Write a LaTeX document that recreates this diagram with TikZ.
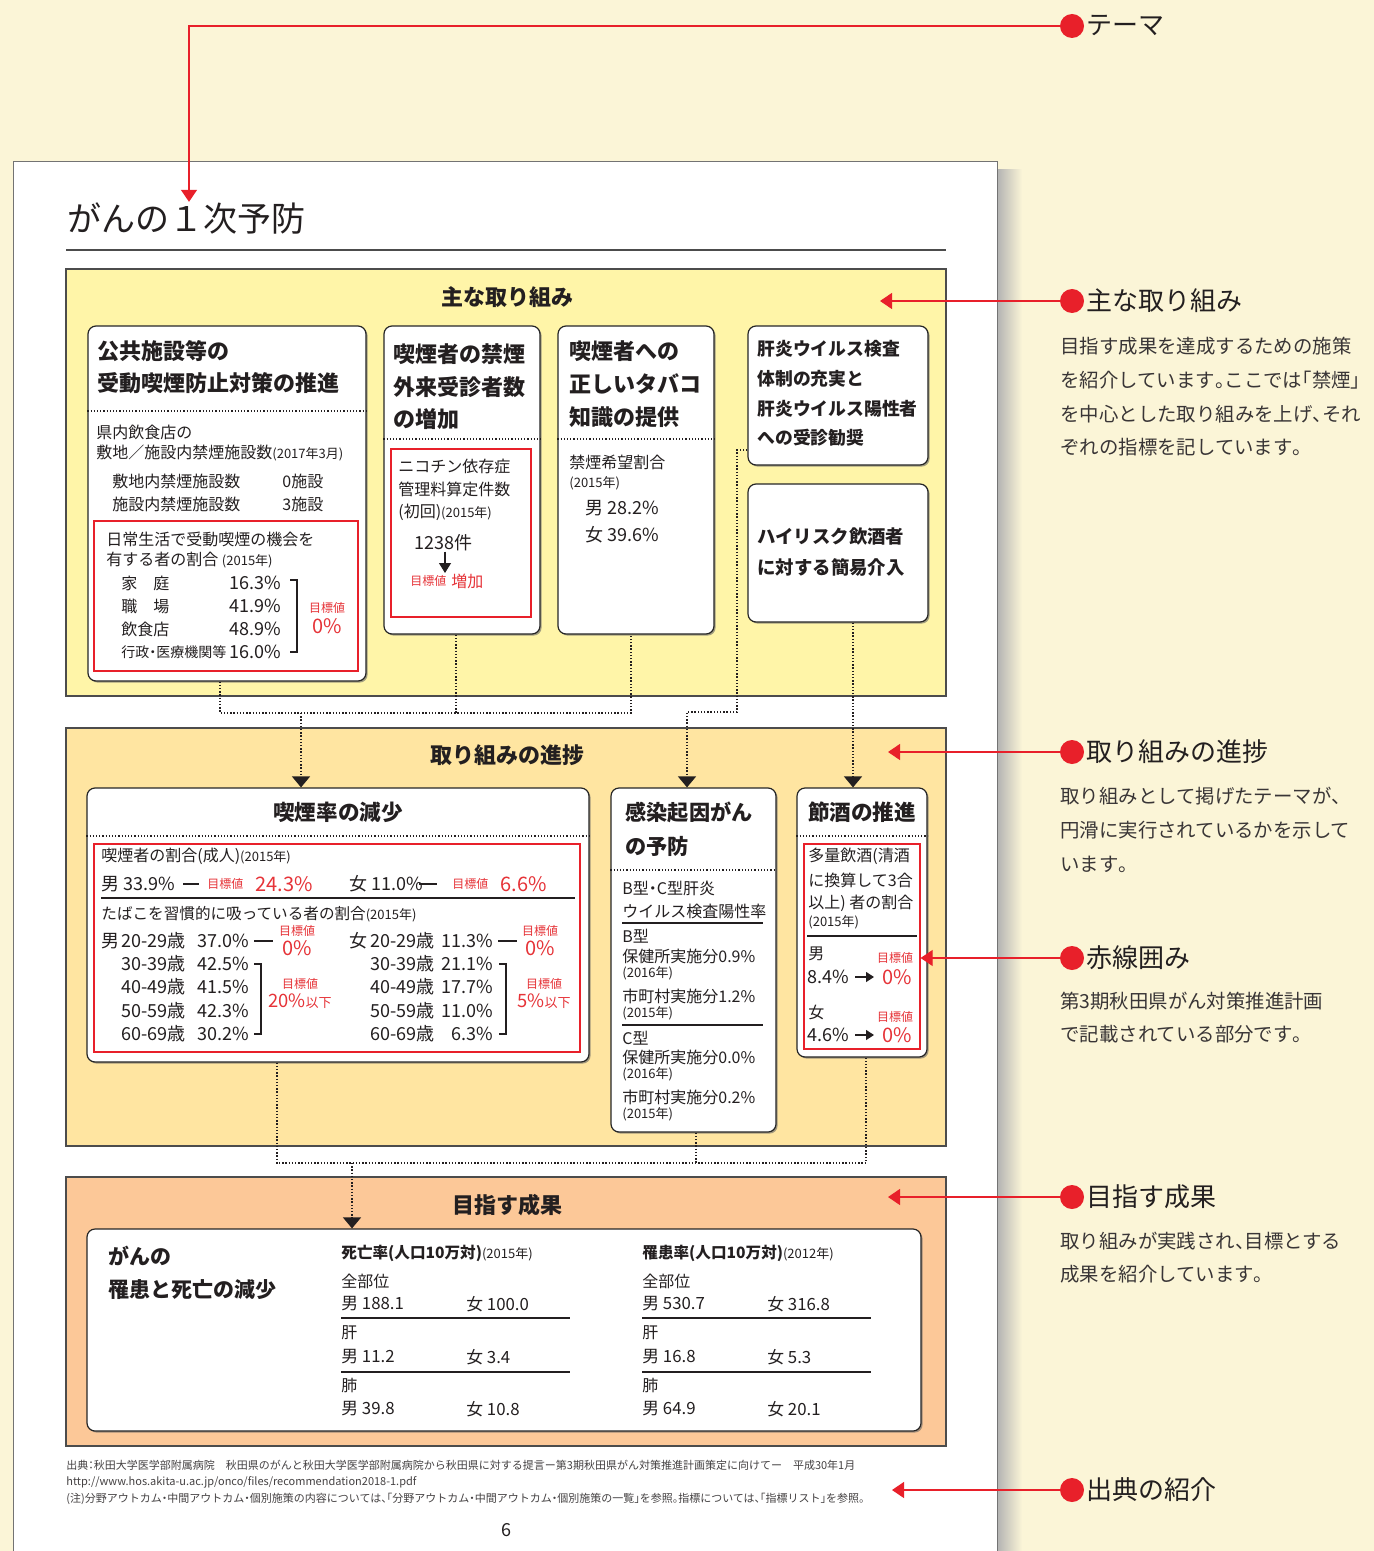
\documentclass[tikz,border=0pt]{standalone}
\usepackage{fontspec}
\setmainfont{Noto Sans CJK JP}
\usetikzlibrary{fit,arrows.meta,calc,shadows}
\definecolor{cream}{HTML}{FBF5D7}
\definecolor{yel}{HTML}{FFF5A8}
\definecolor{ora}{HTML}{FFE5A1}
\definecolor{sal}{HTML}{FCC898}
\definecolor{redc}{HTML}{E8202A}
\definecolor{redt}{HTML}{E63338}
\definecolor{ink}{HTML}{231F20}
\newcommand\myfs[1]{\fontsize{#1}{#1}\selectfont}
\newcommand\hp[1]{\makebox[0.5em][l]{#1}}
\newcommand\hpr[1]{\makebox[0.5em][r]{#1}}
\newcommand\hc[1]{\makebox[0.5em][c]{#1}}
\begin{document}
\begin{tikzpicture}[x=0.5pt,y=-0.5pt,
  sect/.style={draw=black!70, line width=0.6pt, inner sep=0pt},
  rbox/.style={draw=black!85, fill=white, rounded corners=4pt, line width=0.6pt, inner sep=0pt,
     drop shadow={shadow xshift=0.8pt, shadow yshift=-0.8pt, opacity=0.6, fill=black!60}},
  rbx/.style={draw=redc, line width=0.6pt, inner sep=0pt},
  tx/.style={anchor=west, inner sep=0pt, font=\myfs{8}, text=ink},
  sm/.style={tx, font=\myfs{6.5}},
  ttl/.style={anchor=west, inner sep=0pt, font=\myfs{11}\bfseries, text=ink},
  sttl/.style={inner sep=0pt, font=\myfs{11}\bfseries, text=ink},
  num/.style={tx, font=\myfs{9}},
  nume/.style={anchor=east, inner sep=0pt, font=\myfs{9}, text=ink},
  rt/.style={inner sep=0pt, font=\myfs{6}, text=redt},
  rn/.style={inner sep=0pt, font=\myfs{10}, text=redt},
  dotl/.style={line width=0.6pt, dash pattern=on 0.6pt off 1pt, draw=ink},
  dotconn/.style={line width=0.7pt, dash pattern=on 0.7pt off 0.9pt, draw=ink},
  dotarr/.style={dotconn, -{Triangle[width=9pt,length=5.5pt]}},
  redl/.style={draw=redc, line width=0.6pt},
  reda/.style={redl, -{Triangle[width=8pt,length=6pt]}},
  rdot/.style={circle, fill=redc, minimum size=12pt, inner sep=0pt},
  anh/.style={anchor=west, inner sep=0pt, font=\myfs{13}, text=ink},
  anb/.style={anchor=west, inner sep=0pt, font=\myfs{9.7}, text=ink!90},
  ft/.style={anchor=west, inner sep=0pt, font=\myfs{5.5}, text=ink!85},
  blk/.style={line width=0.6pt, draw=ink}
]
\useasboundingbox (0,0) rectangle (1374,1551);
\clip (0,0) rectangle (1374,1551);
% background and page
\fill[cream] (0,0) rectangle (1374,1551);
\shade[left color=black!30, right color=cream] (997,170) rectangle (1022,1551);
\fill[white] (13,162) rectangle (997,1560);
\draw[black!55, line width=0.5pt] (13,1560) -- (13,162) -- (997,162) -- (997,1560);

% title
\node[anchor=west, inner sep=0pt, font=\myfs{17}, text=ink] (title) at (67,218) {がんの１次予防};
\draw[black!70, line width=0.7pt] (66,250) -- (946,250);

% ===== section 1 =====
\node[sect, fill=yel, fit={(66,269)(946,696)}] (S1) {};
\node[sttl] (S1t) at (507,297) {主な取り組み};

\node[rbox, fit={(88,326)(366,681)}] (A) {};
\node[rbox, fit={(384,326)(540,634)}] (B) {};
\node[rbox, fit={(558,326)(714,634)}] (C) {};
\node[rbox, fit={(748,326)(928,465)}] (D) {};
\node[rbox, fit={(748,484)(928,622)}] (E) {};

% box A
\node[ttl] (a1) at (97,351) {公共施設等の};
\node[ttl] (a2) at (97,383) {受動喫煙防止対策の推進};
\draw[dotl] (A.west |- 0,411) -- (A.east |- 0,411);
\node[tx] (a3) at (96,432) {県内飲食店の};
\node[tx] (a4) at (96,453) {敷地／施設内禁煙施設数{\myfs{6.5}(2017年3月)}};
\node[tx] (a5) at (112,481) {敷地内禁煙施設数};
\node[tx] (a6) at (282,481) {0施設};
\node[tx] (a7) at (112,504) {施設内禁煙施設数};
\node[tx] (a8) at (282,504) {3施設};
\node[rbx, fit={(94,521)(358,671)}] (AR) {};
\node[tx] (a9) at (106,539) {日常生活で受動喫煙の機会を};
\node[tx] (a10) at (106,560) {有する者の割合 {\myfs{6.5}(2015年)}};
\foreach \ya/\la/\pa [count=\i] in {583/家　庭/16.3\%, 606/職　場/41.9\%, 629/飲食店/48.9\%, 652/{\myfs{7}行政\hc{・}医療機関等}/16.0\%}{
  \node[tx] (al\i) at (121,\ya) {\la};
  \node[nume] (ap\i) at (281,\ya) {\pa};
}
\draw[blk] (290,580) -- (297,580) -- (297,652) -- (290,652);
\node[rt] (a11) at (327,608) {目標値};
\node[rn] (a12) at (327,626) {0\%};

% box B
\node[ttl] (b1) at (393,354) {喫煙者の禁煙};
\node[ttl] (b2) at (393,387) {外来受診者数};
\node[ttl] (b3) at (393,419) {の増加};
\draw[dotl] (B.west |- 0,439) -- (B.east |- 0,439);
\node[rbx, fit={(391,449)(531,617)}] (BR) {};
\node[tx] (b4) at (398,466) {ニコチン依存症};
\node[tx] (b5) at (398,489) {管理料算定件数};
\node[tx] (b6) at (398,512) {(初回){\myfs{6.5}(2015年)}};
\node[num] (b7) at (414,543) {1238件};
\node[rt, anchor=west] (b8) at (410,581) {目標値};
\node[rt, anchor=west, font=\myfs{8}] (b9) at (451,581) {増加};
\draw[blk, -{Triangle[width=6pt,length=5pt]}] (b7.south -| 445,0) -- (445,573);

% box C
\node[ttl] (c1) at (569,351) {喫煙者への};
\node[ttl] (c2) at (569,384) {正しいタバコ};
\node[ttl] (c3) at (569,417) {知識の提供};
\draw[dotl] (C.west |- 0,439) -- (C.east |- 0,439);
\node[tx] (c4) at (569,462) {禁煙希望割合};
\node[sm] (c5) at (569,483) {(2015年)};
\node[num] (c6) at (585,508) {男 28.2\%};
\node[num] (c7) at (585,535) {女 39.6\%};

% box D, E
\foreach \ya/\la [count=\i] in {349/肝炎ウイルス検査, 379/体制の充実と, 409/肝炎ウイルス陽性者, 438/への受診勧奨}
  \node[ttl, font=\myfs{8.9}\bfseries] (d\i) at (757,\ya) {\la};
\node[ttl, font=\myfs{9.2}\bfseries] (e1) at (757,537) {ハイリスク飲酒者};
\node[ttl, font=\myfs{9.2}\bfseries] (e2) at (757,567) {に対する簡易介入};

% ===== section 2 =====
\node[sect, fill=ora, fit={(66,728)(946,1146)}] (S2) {};
\node[sttl] (S2t) at (507,755) {取り組みの進捗};

\node[rbox, fit={(87,788)(589,1062)}] (F) {};
\node[rbox, fit={(611,788)(776,1132)}] (G) {};
\node[rbox, fit={(797,788)(927,1057)}] (H) {};

% connectors section1 -> section2
\coordinate (jA) at (220,713);
\coordinate (jB) at (456,713);
\coordinate (jC) at (631,713);
\coordinate (jM) at (301,713);
\draw[dotconn] (A.south -| jA) -- (jA) -- (jC) -- (C.south -| jC);
\draw[dotconn] (B.south -| jB) -- (jB);
\draw[dotarr] (jM) -- (F.north -| jM);
\coordinate (d1) at (737,450);
\coordinate (d2) at (737,712);
\coordinate (d3) at (687,712);
\draw[dotarr] (D.west |- d1) -- (d1) -- (d2) -- (d3) -- (G.north -| d3);
\coordinate (e0) at (853,700);
\draw[dotarr] (E.south -| e0) -- (H.north -| e0);

% box F
\node[sttl, font=\myfs{10.8}\bfseries] (f0) at (338,812) {喫煙率の減少};
\draw[dotl] (F.west |- 0,836) -- (F.east |- 0,836);
\node[rbx, fit={(94,844)(580,1052)}] (FR) {};
\node[tx] (f1) at (101,856) {喫煙者の割合(成人){\myfs{6.5}(2015年)}};
\node[num] (f2) at (101,884) {男 33.9\%};
\draw[blk] (183,884) -- (199,884);
\node[rt, anchor=west] (f3) at (207,884) {目標値};
\node[rn, anchor=west] (f4) at (255,884) {24.3\%};
\node[num] (f5) at (349,884) {女 11.0\%};
\draw[blk] (419,884) -- (437,884);
\node[rt, anchor=west] (f6) at (452,884) {目標値};
\node[rn, anchor=west] (f7) at (500,884) {6.6\%};
\draw[blk] (101,898) -- (575,898);
\node[tx, font=\myfs{7.8}] (f8) at (101,914) {たばこを習慣的に吸っている者の割合{\myfs{6.5}(2015年)}};
\node[num] (f9) at (101,941) {男};
\node[num] (f10) at (349,941) {女};
\foreach \ya/\ag/\pma/\pwa [count=\i] in {941/20-29歳/37.0/11.3, 964/30-39歳/42.5/21.1, 987/40-49歳/41.5/17.7, 1011/50-59歳/42.3/11.0, 1034/60-69歳/30.2/6.3}{
  \node[num] (fm\i) at (121,\ya) {\ag};
  \node[nume] (fpm\i) at (249,\ya) {\pma\%};
  \node[num] (fw\i) at (370,\ya) {\ag};
  \node[nume] (fpw\i) at (493,\ya) {\pwa\%};
}
\draw[blk] (254,941) -- (273,941);
\draw[blk] (498,941) -- (517,941);
\node[rt] (f11) at (297,931) {目標値};
\node[rn] (f12) at (297,948) {0\%};
\node[rt] (f13) at (540,931) {目標値};
\node[rn] (f14) at (540,948) {0\%};
\draw[blk] (254,964) -- (261,964) -- (261,1034) -- (254,1034);
\draw[blk] (499,964) -- (506,964) -- (506,1034) -- (499,1034);
\node[rt] (f15) at (300,984) {目標値};
\node[rn, font=\myfs{9.2}] (f16) at (300,1001) {20\%{\myfs{6.5}以下}};
\node[rt] (f17) at (544,984) {目標値};
\node[rn, font=\myfs{9.2}] (f18) at (544,1001) {5\%{\myfs{6.5}以下}};

% box G
\node[ttl, font=\myfs{10.6}\bfseries] (g1) at (625,812) {感染起因がん};
\node[ttl, font=\myfs{10.6}\bfseries] (g2) at (625,846) {の予防};
\draw[dotl] (G.west |- 0,870) -- (G.east |- 0,870);
\node[tx] (g3) at (622,888) {B型\hc{・}C型肝炎};
\node[tx] (g4) at (622,911) {ウイルス検査陽性率};
\draw[blk] (622,923) -- (763,923);
\node[tx] (g5) at (622,936) {B型};
\node[tx] (g6) at (622,956) {保健所実施分0.9\%};
\node[sm] (g7) at (622,973) {(2016年)};
\node[tx] (g8) at (622,996) {市町村実施分1.2\%};
\node[sm] (g9) at (622,1013) {(2015年)};
\draw[blk] (622,1025) -- (763,1025);
\node[tx] (g10) at (622,1038) {C型};
\node[tx] (g11) at (622,1057) {保健所実施分0.0\%};
\node[sm] (g12) at (622,1074) {(2016年)};
\node[tx] (g13) at (622,1097) {市町村実施分0.2\%};
\node[sm] (g14) at (622,1114) {(2015年)};

% box H
\node[sttl, font=\myfs{10.8}\bfseries] (h0) at (862,812) {節酒の推進};
\draw[dotl] (H.west |- 0,836) -- (H.east |- 0,836);
\node[rbx, fit={(804,844)(920,1049)}] (HR) {};
\node[tx] (h1) at (808,856) {多量飲酒(清酒};
\node[tx] (h2) at (808,880) {に換算して3合};
\node[tx] (h3) at (808,903) {以上) 者の割合};
\node[sm] (h4) at (808,922) {(2015年)};
\draw[blk] (807,936) -- (917,936);
\node[tx] (h5) at (808,954) {男};
\node[rt] (h6) at (895,958) {目標値};
\node[num] (h7) at (807,977) {8.4\%};
\node[rn, anchor=west] (h8) at (882,977) {0\%};
\draw[blk, -{Triangle[width=5pt,length=4pt]}] (h7.east) ++(6,0) -- (874,977);
\node[tx] (h9) at (808,1012) {女};
\node[rt] (h10) at (895,1017) {目標値};
\node[num] (h11) at (807,1035) {4.6\%};
\node[rn, anchor=west] (h12) at (882,1035) {0\%};
\draw[blk, -{Triangle[width=5pt,length=4pt]}] (h11.east) ++(6,0) -- (874,1035);

% ===== section 3 =====
\node[sect, fill=sal, fit={(66,1177)(946,1446)}] (S3) {};
\node[sttl] (S3t) at (507,1205) {目指す成果};
\node[rbox, fit={(87,1229)(921,1431)}] (I) {};

\coordinate (kF) at (277,1163);
\coordinate (kG) at (696,1163);
\coordinate (kH) at (866,1163);
\coordinate (kM) at (352,1163);
\draw[dotconn] (F.south -| kF) -- (kF) -- (kH) -- (H.south -| kH);
\draw[dotconn] (G.south -| kG) -- (kG);
\draw[dotarr] (kM) -- (I.north -| kM);

\node[ttl, font=\myfs{10.5}\bfseries] (i1) at (108,1256) {がんの};
\node[ttl, font=\myfs{10.5}\bfseries] (i2) at (108,1290) {罹患と死亡の減少};
\node[tx, font=\myfs{7.8}\bfseries] (i3) at (341,1253) {死亡率(人口10万対){\mdseries\myfs{6.5}(2015年)}};
\node[tx, font=\myfs{7.8}\bfseries] (i4) at (642,1253) {罹患率(人口10万対){\mdseries\myfs{6.5}(2012年)}};
\foreach \xa/\ma/\wa/\mb/\wb/\mc/\wc/\cc in {341/188.1/100.0/11.2/3.4/39.8/10.8/L, 642/530.7/316.8/16.8/5.3/64.9/20.1/R}{
  \node[tx] (i\cc a) at (\xa,1281) {全部位};
  \node[num, font=\myfs{8.4}] (i\cc b) at (\xa,1304) {男 \ma};
  \node[num, font=\myfs{8.4}] (i\cc c) at (\xa+125,1304) {女 \wa};
  \draw[blk] (\xa,1318) -- (\xa+229,1318);
  \node[tx] (i\cc d) at (\xa,1333) {肝};
  \node[num, font=\myfs{8.4}] (i\cc e) at (\xa,1357) {男 \mb};
  \node[num, font=\myfs{8.4}] (i\cc f) at (\xa+125,1357) {女 \wb};
  \draw[blk] (\xa,1372) -- (\xa+229,1372);
  \node[tx] (i\cc g) at (\xa,1386) {肺};
  \node[num, font=\myfs{8.4}] (i\cc h) at (\xa,1409) {男 \mc};
  \node[num, font=\myfs{8.4}] (i\cc k) at (\xa+125,1409) {女 \wc};
}

% footer
\node[ft] (ft1) at (66,1465) {出典\hc{：}秋田大学医学部附属病院　秋田県のがんと秋田大学医学部附属病院から秋田県に対する提言ー第3期秋田県がん対策推進計画策定に向けてー　平成30年1月};
\node[ft] (ft2) at (66,1482) {http://www.hos.akita-u.ac.jp/onco/files/recommendation2018-1.pdf};
\node[ft] (ft3) at (66,1499) {(注)分野アウトカム\hc{・}中間アウトカム\hc{・}個別施策の内容については\hp{、}\hpr{「}分野アウトカム\hc{・}中間アウトカム\hc{・}個別施策の一覧\hp{」}を参照\hp{。}指標については\hp{、}\hpr{「}指標リスト\hp{」}を参照\hp{。}};
\node[inner sep=0pt, font=\myfs{9}, text=ink] (pg) at (506,1530) {6};

% ===== right annotations =====
\node[rdot] (r0) at (1072,26) {};
\node[anh] (r0h) at (1086,26) {テーマ};
\coordinate (tc) at (189,26);
\draw[reda] (r0.west) -- (tc) -- (tc |- title.north);

\node[rdot] (r1) at (1072,301) {};
\node[anh] (r1h) at (1086,301) {主な取り組み};
\coordinate (t1) at (880,301);
\draw[reda] (r1.west) -- (t1);
\foreach \ya/\la [count=\i] in {346/目指す成果を達成するための施策, 380/を紹介しています\hp{。}ここでは\hpr{「}禁煙\hp{」}, 414/を中心とした取り組みを上げ\hp{、}それ, 447/ぞれの指標を記しています\hp{。}}
  \node[anb] (r1b\i) at (1060,\ya) {\la};

\node[rdot] (r2) at (1072,752) {};
\node[anh] (r2h) at (1086,752) {取り組みの進捗};
\coordinate (t2) at (888,752);
\draw[reda] (r2.west) -- (t2);
\foreach \ya/\la [count=\i] in {796/取り組みとして掲げたテーマが\hp{、}, 830/円滑に実行されているかを示して, 864/います\hp{。}}
  \node[anb] (r2b\i) at (1060,\ya) {\la};

\node[rdot] (r3) at (1072,958) {};
\node[anh] (r3h) at (1086,958) {赤線囲み};
\draw[reda] (r3.west) -- (HR.east |- r3);
\foreach \ya/\la [count=\i] in {1001/第3期秋田県がん対策推進計画, 1034/で記載されている部分です\hp{。}}
  \node[anb] (r3b\i) at (1060,\ya) {\la};

\node[rdot] (r4) at (1072,1197) {};
\node[anh] (r4h) at (1086,1197) {目指す成果};
\coordinate (t4) at (888,1197);
\draw[reda] (r4.west) -- (t4);
\foreach \ya/\la [count=\i] in {1241/取り組みが実践され\hp{、}目標とする, 1274/成果を紹介しています\hp{。}}
  \node[anb] (r4b\i) at (1060,\ya) {\la};

\node[rdot] (r5) at (1072,1490) {};
\node[anh] (r5h) at (1086,1490) {出典の紹介};
\coordinate (t5) at (892,1490);
\draw[reda] (r5.west) -- (t5);
\end{tikzpicture}
\end{document}
